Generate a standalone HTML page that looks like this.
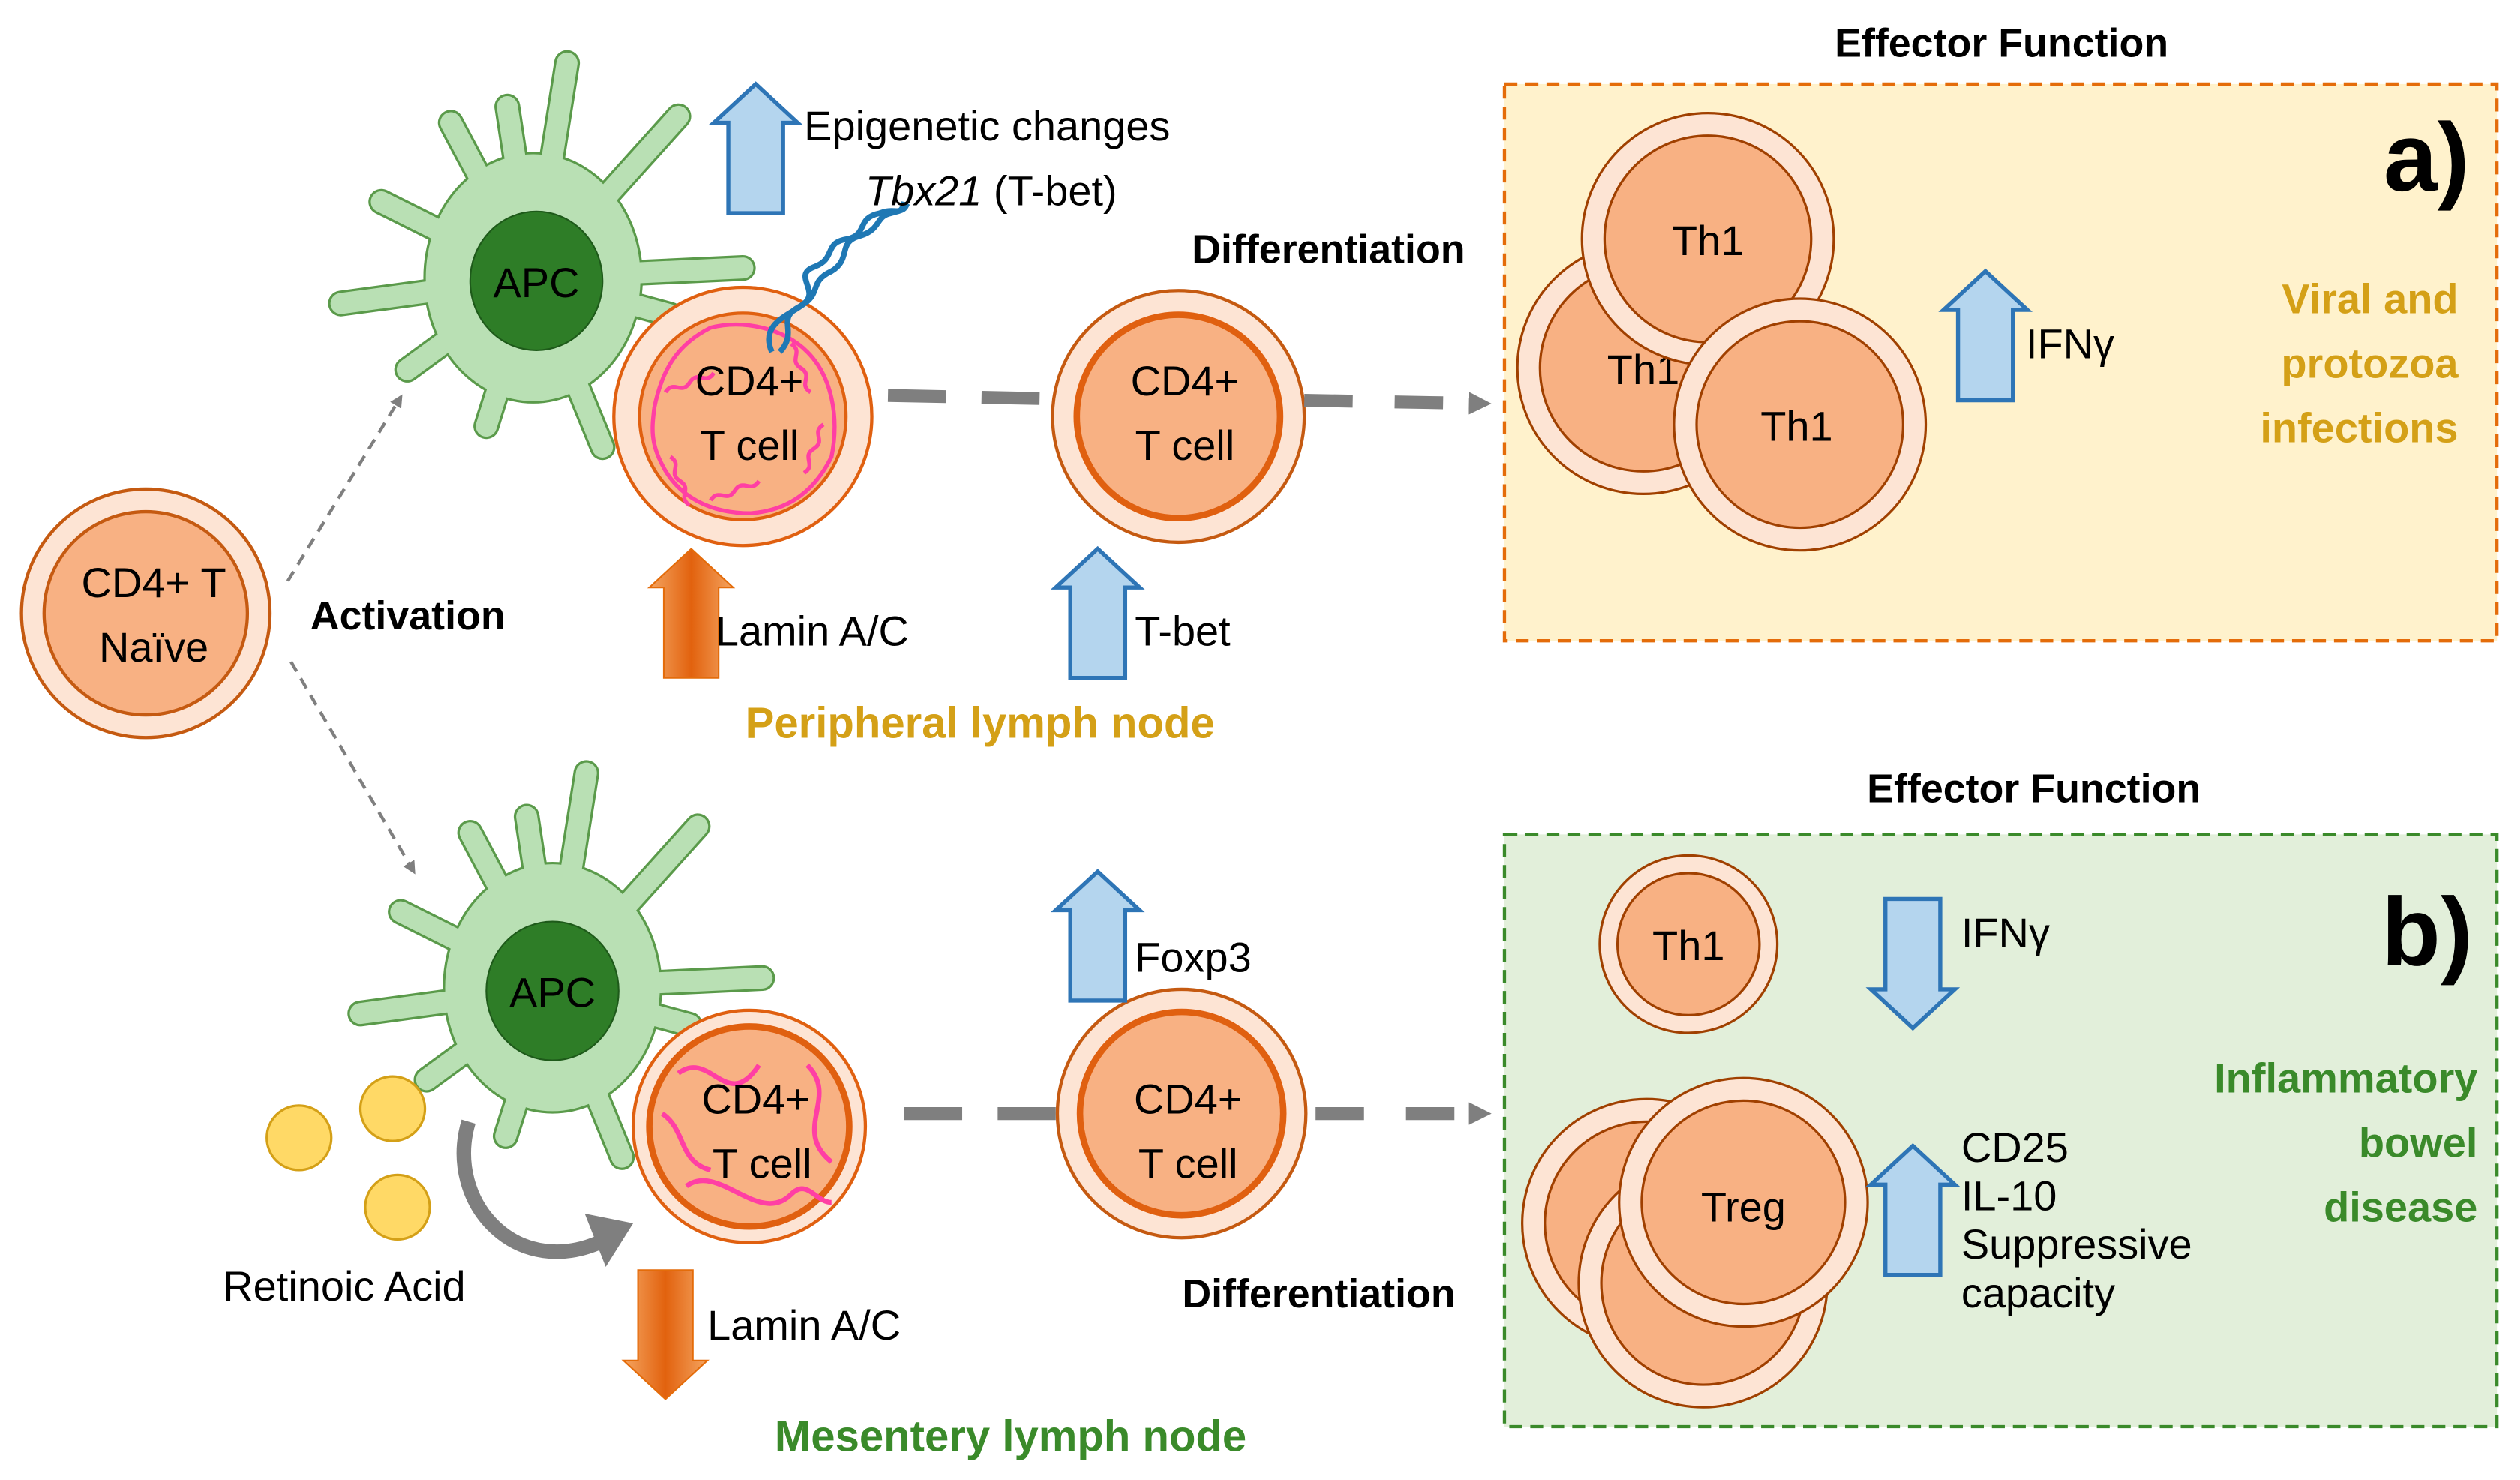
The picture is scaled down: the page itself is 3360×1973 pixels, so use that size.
<!DOCTYPE html>
<html><head><meta charset="utf-8"><style>
html,body{margin:0;padding:0;background:#fff}
svg{display:block}
text{font-family:"Liberation Sans",sans-serif}
</style></head><body>
<svg width="3360" height="1973" viewBox="0 0 1561 917" xmlns="http://www.w3.org/2000/svg">
<defs>
<marker id="ga" markerWidth="8" markerHeight="8" refX="6" refY="4" orient="auto" markerUnits="userSpaceOnUse"><path d="M0,0 L8,4 L0,8z" fill="#7f7f7f"/></marker>
<marker id="gb" markerWidth="14" markerHeight="14" refX="10" refY="7" orient="auto" markerUnits="userSpaceOnUse"><path d="M0,0 L14,7 L0,14z" fill="#7f7f7f"/></marker>
<linearGradient id="og" x1="0" x2="1"><stop offset="0" stop-color="#f4a460"/><stop offset=".5" stop-color="#e2620e"/><stop offset="1" stop-color="#f4a460"/></linearGradient>
<g id="upb"><path d="M-17,0 L-17,-56 L-26,-56 L0,-80 L26,-56 L17,-56 L17,0z" fill="#b4d5ee" stroke="#2e75b6" stroke-width="2.5"/></g>
<g id="upo"><path d="M-17,0 L-17,-56 L-26,-56 L0,-80 L26,-56 L17,-56 L17,0z" fill="url(#og)" stroke="#e46c0a" stroke-width="1"/></g>
<path id="fing" d="M0,0 L21,-133 M0,0 L-51,-96 M0,0 L-16,-106 M0,0 L90,-100 M0,0 L-94,-47 M0,0 L-119,16 M0,0 L130,-6 M0,0 L85,23 M0,0 L-29,92 M0,0 L43,105 M0,0 L-78,57"/>
<g id="apc">
<use href="#fing" stroke="#5a9a4a" stroke-width="16" stroke-linecap="round"/>
<ellipse cx="0" cy="0" rx="68" ry="78" fill="#5a9a4a"/>
<use href="#fing" stroke="#b9e0b4" stroke-width="13" stroke-linecap="round"/>
<ellipse cx="0" cy="0" rx="66.5" ry="76.5" fill="#b9e0b4"/>
</g>
<g id="squig" fill="none" stroke="#ff3fa4" stroke-width="2.5">
<path d="M-55,-5 C-50,-30 -40,-45 -20,-55 C0,-60 25,-55 40,-40 C55,-25 60,0 55,25 C45,45 30,58 5,60 C-20,60 -40,50 -50,30 C-58,15 -56,5 -55,-5"/>
<path d="M-48,-15 c5,-8 10,2 15,-6 c5,-8 10,2 15,-6 M30,-45 c8,5 -2,10 6,15 c8,5 -2,10 6,15 M50,5 c-8,5 2,10 -6,15 c-8,5 2,10 -6,15 M-45,25 c8,5 -2,10 6,15 c8,5 -2,10 6,15 M-20,52 c5,-8 10,2 15,-6 c5,-8 10,2 15,-6"/>
</g>
</defs>

<!-- naive -->
<circle cx="90" cy="380" r="77" fill="#fde4d4" stroke="#c55a11" stroke-width="2"/>
<circle cx="90" cy="380" r="63" fill="#f8b183" stroke="#c55a11" stroke-width="2"/>
<text x="95" y="370" font-size="26" text-anchor="middle">CD4+ T</text>
<text x="95" y="410" font-size="26" text-anchor="middle">Naïve</text>
<text x="192" y="390" font-size="25" font-weight="bold">Activation</text>
<line x1="178" y1="360" x2="248" y2="246" stroke="#7f7f7f" stroke-width="2" stroke-dasharray="7,5" marker-end="url(#ga)"/>
<line x1="180" y1="410" x2="256" y2="540" stroke="#7f7f7f" stroke-width="2" stroke-dasharray="7,5" marker-end="url(#ga)"/>

<!-- top -->
<use href="#apc" x="330" y="172"/>
<ellipse cx="332" cy="174" rx="41" ry="43" fill="#2e7d27" stroke="#1e5a1a"/>
<text x="332" y="184" font-size="26" text-anchor="middle">APC</text>
<circle cx="460" cy="258" r="80" fill="#fde4d4" stroke="#e06010" stroke-width="2"/>
<circle cx="460" cy="258" r="64" fill="#f8b183" stroke="#e06010" stroke-width="2"/>
<use href="#squig" x="460" y="258"/>
<text x="464" y="245" font-size="26" text-anchor="middle">CD4+</text>
<text x="464" y="285" font-size="26" text-anchor="middle">T cell</text>
<path d="M478,218 C470,200 490,195 498,188 C508,180 490,170 505,165 C518,160 510,150 525,148 C538,145 530,135 545,132 C555,128 558,135 560,125" fill="none" stroke="#1f78b4" stroke-width="3.5"/>
<path d="M483,218 C495,205 480,198 495,190 C510,182 500,175 515,168 C528,160 518,150 533,146 C546,142 542,134 552,132 C560,130 560,130 562,126" fill="none" stroke="#1f78b4" stroke-width="3.5"/>
<use href="#upb" x="468" y="132"/>
<text x="498" y="87" font-size="26">Epigenetic changes</text>
<text x="536" y="127" font-size="26"><tspan font-style="italic">Tbx21</tspan> (T-bet)</text>
<line x1="550" y1="245" x2="650" y2="247" stroke="#7f7f7f" stroke-width="8" stroke-dasharray="36,22"/>
<circle cx="730" cy="258" r="78" fill="#fde4d4" stroke="#c55a11" stroke-width="2"/>
<circle cx="730" cy="258" r="63" fill="#f8b183" stroke="#e06010" stroke-width="4"/>
<text x="734" y="245" font-size="26" text-anchor="middle">CD4+</text>
<text x="734" y="285" font-size="26" text-anchor="middle">T cell</text>
<line x1="808" y1="248" x2="920" y2="250" stroke="#7f7f7f" stroke-width="8" stroke-dasharray="30,26" marker-end="url(#gb)"/>
<text x="823" y="163" font-size="25" font-weight="bold" text-anchor="middle">Differentiation</text>
<use href="#upo" x="428" y="420"/>
<text x="443" y="400" font-size="26">Lamin A/C</text>
<use href="#upb" x="680" y="420"/>
<text x="703" y="400" font-size="26">T-bet</text>
<text x="607" y="457" font-size="27" font-weight="bold" fill="#d4a017" text-anchor="middle">Peripheral lymph node</text>

<!-- box a -->
<text x="1240" y="35" font-size="25" font-weight="bold" text-anchor="middle">Effector Function</text>
<rect x="932" y="52" width="615" height="345" fill="#fff2cc" stroke="#e46c0a" stroke-width="2" stroke-dasharray="8,5"/>
<circle cx="1018" cy="228" r="78" fill="#fde4d4" stroke="#a04000" stroke-width="1.5"/>
<circle cx="1018" cy="228" r="64" fill="#f8b183" stroke="#a04000" stroke-width="1.5"/>
<text x="1018" y="238" font-size="26" text-anchor="middle">Th1</text>
<circle cx="1058" cy="148" r="78" fill="#fde4d4" stroke="#a04000" stroke-width="1.5"/>
<circle cx="1058" cy="148" r="64" fill="#f8b183" stroke="#a04000" stroke-width="1.5"/>
<text x="1058" y="158" font-size="26" text-anchor="middle">Th1</text>
<circle cx="1115" cy="263" r="78" fill="#fde4d4" stroke="#a04000" stroke-width="1.5"/>
<circle cx="1115" cy="263" r="64" fill="#f8b183" stroke="#a04000" stroke-width="1.5"/>
<text x="1113" y="273" font-size="26" text-anchor="middle">Th1</text>
<use href="#upb" x="1230" y="248"/>
<text x="1255" y="222" font-size="26">IFNγ</text>
<text x="1530" y="118" font-size="60" font-weight="bold" text-anchor="end">a)</text>
<g font-size="26" font-weight="bold" fill="#d4a017" text-anchor="end">
<text x="1523" y="194">Viral and</text><text x="1523" y="234">protozoa</text><text x="1523" y="274">infections</text></g>

<!-- bottom -->
<use href="#apc" x="342" y="612"/>
<ellipse cx="342" cy="614" rx="41" ry="43" fill="#2e7d27" stroke="#1e5a1a"/>
<text x="342" y="624" font-size="26" text-anchor="middle">APC</text>
<circle cx="185" cy="705" r="20" fill="#ffd966" stroke="#d4a017" stroke-width="1.5"/>
<circle cx="243" cy="687" r="20" fill="#ffd966" stroke="#d4a017" stroke-width="1.5"/>
<circle cx="246" cy="748" r="20" fill="#ffd966" stroke="#d4a017" stroke-width="1.5"/>
<path d="M290,695 C275,745 320,795 375,768" fill="none" stroke="#7f7f7f" stroke-width="9"/>
<path d="M392,758 L362,752 L375,785z" fill="#7f7f7f"/>
<text x="213" y="806" font-size="26" text-anchor="middle">Retinoic Acid</text>
<circle cx="464" cy="698" r="72" fill="#fde4d4" stroke="#e06010" stroke-width="2"/>
<circle cx="464" cy="698" r="62" fill="#f8b183" stroke="#e06010" stroke-width="4"/>
<g fill="none" stroke="#ff3fa4" stroke-width="3"><path d="M420,665 C440,650 450,690 470,660 M500,660 C520,680 490,700 515,720 M425,735 C445,720 470,760 490,740 C500,730 505,745 515,745 M410,690 C425,700 420,720 440,725"/></g>
<text x="468" y="690" font-size="26" text-anchor="middle">CD4+</text>
<text x="472" y="730" font-size="26" text-anchor="middle">T cell</text>
<g transform="translate(412,787) scale(1,-1)"><use href="#upo"/></g>
<text x="438" y="830" font-size="26">Lamin A/C</text>
<line x1="560" y1="690" x2="655" y2="690" stroke="#7f7f7f" stroke-width="8" stroke-dasharray="36,22"/>
<circle cx="732" cy="690" r="77" fill="#fde4d4" stroke="#c55a11" stroke-width="2"/>
<circle cx="732" cy="690" r="63" fill="#f8b183" stroke="#e06010" stroke-width="4"/>
<text x="736" y="690" font-size="26" text-anchor="middle">CD4+</text>
<text x="736" y="730" font-size="26" text-anchor="middle">T cell</text>
<line x1="815" y1="690" x2="920" y2="690" stroke="#7f7f7f" stroke-width="8" stroke-dasharray="30,26" marker-end="url(#gb)"/>
<use href="#upb" x="680" y="620"/>
<text x="703" y="602" font-size="26">Foxp3</text>
<text x="817" y="810" font-size="25" font-weight="bold" text-anchor="middle">Differentiation</text>
<text x="626" y="899" font-size="27" font-weight="bold" fill="#3a8a2a" text-anchor="middle">Mesentery lymph node</text>

<!-- box b -->
<text x="1260" y="497" font-size="25" font-weight="bold" text-anchor="middle">Effector Function</text>
<rect x="932" y="517" width="615" height="367" fill="#e2efda" stroke="#3a8a2a" stroke-width="2" stroke-dasharray="8,5"/>
<circle cx="1046" cy="585" r="55" fill="#fde4d4" stroke="#a04000" stroke-width="1.5"/>
<circle cx="1046" cy="585" r="44" fill="#f8b183" stroke="#a04000" stroke-width="1.5"/>
<text x="1046" y="595" font-size="26" text-anchor="middle">Th1</text>
<g transform="translate(1185,557) scale(1,-1)"><use href="#upb"/></g>
<text x="1215" y="587" font-size="26">IFNγ</text>
<circle cx="1020" cy="758" r="77" fill="#fde4d4" stroke="#a04000" stroke-width="1.5"/>
<circle cx="1020" cy="758" r="63" fill="#f8b183" stroke="#a04000" stroke-width="1.5"/>
<circle cx="1055" cy="795" r="77" fill="#fde4d4" stroke="#a04000" stroke-width="1.5"/>
<circle cx="1055" cy="795" r="63" fill="#f8b183" stroke="#a04000" stroke-width="1.5"/>
<circle cx="1080" cy="745" r="77" fill="#fde4d4" stroke="#a04000" stroke-width="1.5"/>
<circle cx="1080" cy="745" r="63" fill="#f8b183" stroke="#a04000" stroke-width="1.5"/>
<text x="1080" y="757" font-size="26" text-anchor="middle">Treg</text>
<use href="#upb" x="1185" y="790"/>
<g font-size="26"><text x="1215" y="720">CD25</text><text x="1215" y="750">IL-10</text><text x="1215" y="780">Suppressive</text><text x="1215" y="810">capacity</text></g>
<text x="1532" y="598" font-size="60" font-weight="bold" text-anchor="end">b)</text>
<g font-size="26" font-weight="bold" fill="#3a8a2a" text-anchor="end">
<text x="1535" y="677">Inflammatory</text><text x="1535" y="717">bowel</text><text x="1535" y="757">disease</text></g>
</svg>
</body></html>
